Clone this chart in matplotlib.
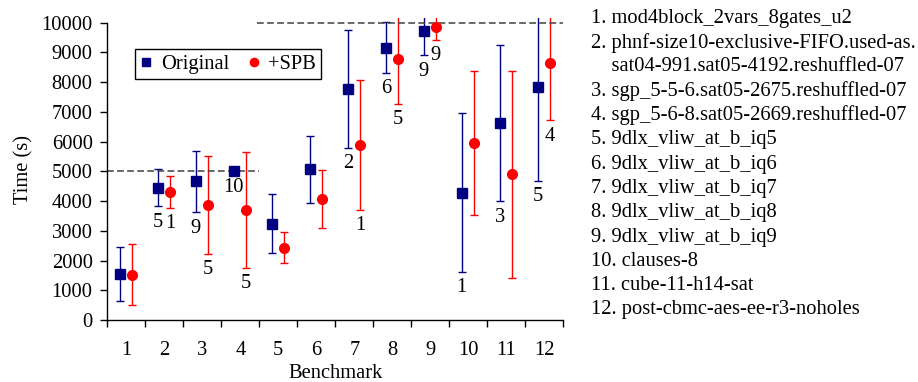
import matplotlib
matplotlib.use('Agg')
import matplotlib.pyplot as plt
from matplotlib.lines import Line2D
import numpy as np

plt.rcParams['font.family'] = ['Liberation Serif', 'DejaVu Serif']

BENCH = np.arange(1, 13)
TICK_LABELS = [str(i) for i in BENCH]

ORIG_MEAN = [1550, 4451, 4658, 5000, 3240, 5068, 7781, 9160, 9731, 4283, 6626, 7826]
ORIG_STD = [913, 623, 1037, 0, 987, 1133, 1985, 852, 829, 2669, 2634, 3151]
SPB_MEAN = [1525, 4305, 3862, 3705, 2433, 4070, 5886, 8767, 9866, 5959, 4905, 8655]
SPB_STD = [1020, 527, 1642, 1945, 516, 986, 2175, 1502, 438, 2427, 3481, 1939]

ORIG_NOTE = ['', '5', '9', '10', '', '', '2', '6', '9', '1', '3', '5']
SPB_NOTE = ['', '1', '5', '5', '', '', '1', '5', '9', '', '', '4']

NAMES = [
    '1. mod4block_2vars_8gates_u2',
    '2. phnf-size10-exclusive-FIFO.used-as.',
    '    sat04-991.sat05-4192.reshuffled-07',
    '3. sgp_5-5-6.sat05-2675.reshuffled-07',
    '4. sgp_5-6-8.sat05-2669.reshuffled-07',
    '5. 9dlx_vliw_at_b_iq5',
    '6. 9dlx_vliw_at_b_iq6',
    '7. 9dlx_vliw_at_b_iq7',
    '8. 9dlx_vliw_at_b_iq8',
    '9. 9dlx_vliw_at_b_iq9',
    '10. clauses-8',
    '11. cube-11-h14-sat',
    '12. post-cbmc-aes-ee-r3-noholes',
]

ORIG_COLOR = '#000080'
SPB_COLOR = '#FF0000'
FS = 14.8

fig = plt.figure(figsize=(9.18, 3.82), dpi=100)
W, H = 918, 382
ax = fig.add_axes([107.3 / W, 1 - 320 / H, 456 / W, 301.8 / H])

x = BENCH.astype(float)
ax.errorbar(x - 0.17, ORIG_MEAN, yerr=ORIG_STD, fmt='s', color=ORIG_COLOR,
            ms=6.5, elinewidth=1.0, capsize=2.6, capthick=1.0)
ax.errorbar(x + 0.15, SPB_MEAN, yerr=SPB_STD, fmt='o', color=SPB_COLOR,
            ms=7, elinewidth=1.0, capsize=2.6, capthick=1.0)

# counts under the error bars
for xs, means, stds, notes in [(x - 0.17, ORIG_MEAN, ORIG_STD, ORIG_NOTE),
                               (x + 0.15, SPB_MEAN, SPB_STD, SPB_NOTE)]:
    for xi, m, s, t in zip(xs, means, stds, notes):
        if t:
            ax.annotate(t, xy=(xi, m - s), xytext=(0, -11.5),
                        textcoords='offset points', ha='center', va='center',
                        fontsize=FS)

# timeout limits
ax.hlines(5000, 0.5, 4.5, colors='#404040', linestyles=(0, (4.4, 2.2)), lw=1.1)
ax.hlines(10000, 4.45, 12.5, colors='#404040', linestyles=(0, (4.4, 2.2)), lw=1.1)

ax.set_xlim(0.5, 12.5)
ax.set_ylim(0, 10150)
ax.spines['top'].set_visible(False)
ax.spines['right'].set_visible(False)
ax.spines['left'].set_bounds(0, 10000)
for sp in ('left', 'bottom'):
    ax.spines[sp].set_linewidth(1.0)

ax.set_yticks(np.arange(0, 10001, 1000))
ax.tick_params(axis='y', length=5, width=1.0, labelsize=FS, pad=5.5)
ax.set_xticks(np.arange(0.5, 12.6, 1.0))
ax.set_xticklabels([])
ax.tick_params(axis='x', which='major', length=5, width=1.0)
ax.set_xticks(x, minor=True)
ax.set_xticklabels(TICK_LABELS, minor=True)
ax.tick_params(axis='x', which='minor', length=0, labelsize=FS, pad=15)

ax.set_xlabel('Benchmark', fontsize=FS, labelpad=3)
ax.set_ylabel('Time (s)', fontsize=FS, labelpad=6)

handles = [
    Line2D([], [], marker='s', ls='none', color=ORIG_COLOR, ms=5.5),
    Line2D([], [], marker='o', ls='none', color=SPB_COLOR, ms=6),
]
leg = ax.legend(handles, ['Original', '+SPB'], loc='upper left',
                bbox_to_anchor=(0.061, 0.897), ncol=2,
                fontsize=FS, frameon=True, fancybox=False, framealpha=1,
                edgecolor='black', handlelength=0.6, handletextpad=0.4,
                columnspacing=0.9, borderpad=0.25, borderaxespad=0)
leg.get_frame().set_linewidth(1.0)

# benchmark names
for i, name in enumerate(NAMES):
    fig.text(591 / W, 1 - (18.3 + i * 24.3) / H, name, fontsize=FS,
             ha='left', va='center')

fig.savefig('out.png', dpi=100)
